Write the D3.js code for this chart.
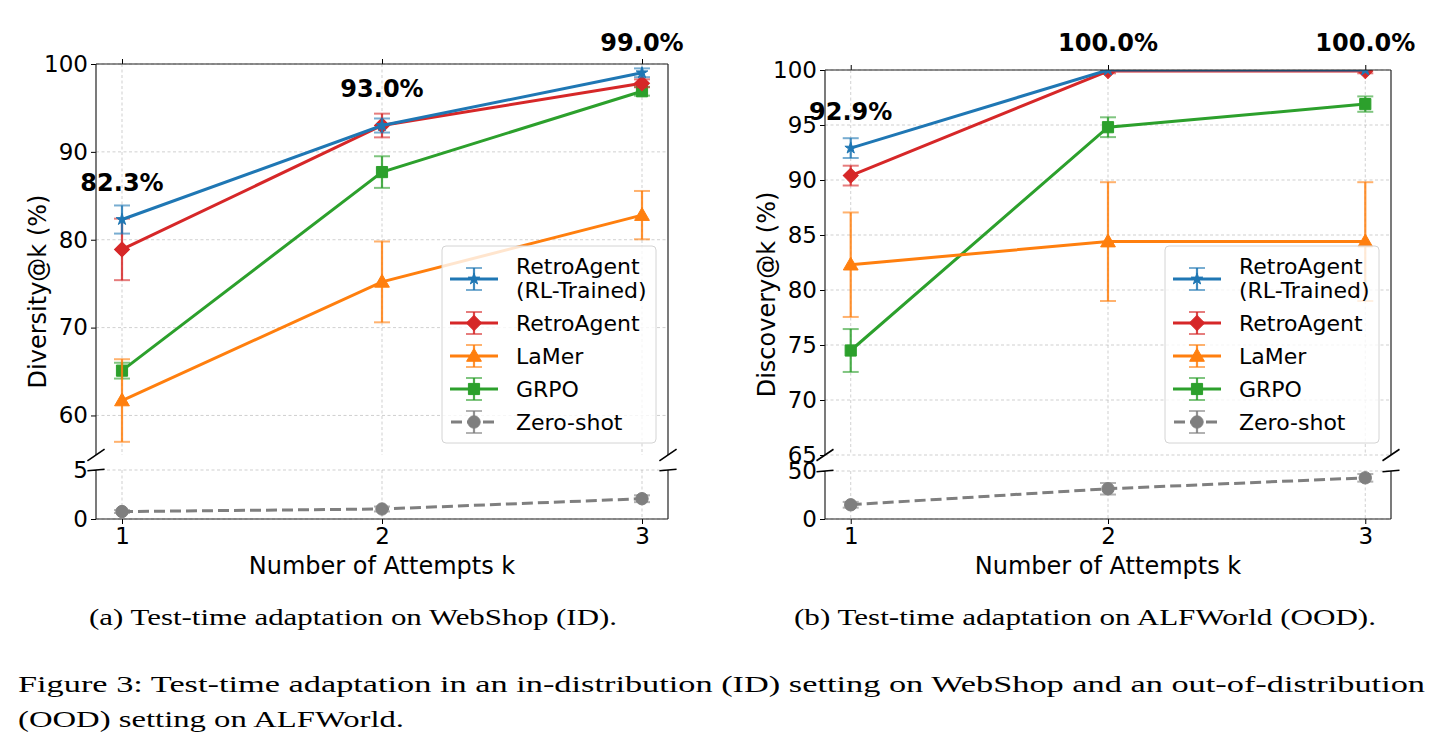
<!DOCTYPE html>
<html><head><meta charset="utf-8">
<script src="https://cdn.jsdelivr.net/npm/d3@7"></script>
<style>
body{margin:0;background:#fff}
svg{display:block}
text{fill:#000}
.cap{font-family:"Liberation Serif","Times New Roman",Times,serif;font-size:23px}
</style>
</head><body>
<svg id="c" width="1439" height="749"></svg>
<script>
// ---------------- data ----------------
const attempts = [1, 2, 3];
const xTickValues = [1, 2, 3];
const seriesNames = ["RetroAgent (RL-Trained)", "RetroAgent", "LaMer", "GRPO", "Zero-shot"];
const legendLabels = [["RetroAgent", "(RL-Trained)"], ["RetroAgent"], ["LaMer"], ["GRPO"], ["Zero-shot"]];
const seriesColors = ["#1f77b4", "#d62728", "#ff7f0e", "#2ca02c", "#7f7f7f"];
const seriesMarkers = ["star", "diamond", "triangle", "square", "circle"];

// WebShop (ID) – Diversity@k (%)
const webshopRLTrained    = [82.3, 93.0, 99.0];
const webshopRLTrainedErr = [1.6, 0.8, 0.5];
const webshopRetroAgent    = [78.9, 93.0, 97.8];
const webshopRetroAgentErr = [3.5, 1.35, 0.45];
const webshopLaMer    = [61.7, 75.2, 82.8];
const webshopLaMerErr = [4.7, 4.6, 2.75];
const webshopGRPO    = [65.1, 87.7, 96.9];
const webshopGRPOErr = [0.9, 1.8, 0.5];
const webshopZeroShot    = [0.76, 1.02, 2.07];
const webshopZeroShotErr = [0.15, 0.25, 0.35];
const webshopBestLabels = ["82.3%", "93.0%", "99.0%"];
const webshopUpperTicks = [60, 70, 80, 90, 100];
const webshopLowerTicks = [0, 5];
const webshopUpperDomain = [55.5, 100];
const webshopLowerDomain = [0, 5];

// ALFWorld (OOD) – Discovery@k (%)
const alfworldRLTrained    = [92.9, 100.0, 100.0];
const alfworldRLTrainedErr = [0.9, 0.0, 0.0];
const alfworldRetroAgent    = [90.4, 99.9, 99.9];
const alfworldRetroAgentErr = [0.9, 0.2, 0.2];
const alfworldLaMer    = [82.3, 84.4, 84.4];
const alfworldLaMerErr = [4.75, 5.4, 5.4];
const alfworldGRPO    = [74.5, 94.8, 96.9];
const alfworldGRPOErr = [1.95, 0.9, 0.7];
const alfworldZeroShot    = [14.8, 31.5, 42.9];
const alfworldZeroShotErr = [3.0, 6.0, 4.0];
const alfworldBestLabels = ["92.9%", "100.0%", "100.0%"];
const alfworldUpperTicks = [65, 70, 75, 80, 85, 90, 95, 100];
const alfworldLowerTicks = [0, 50];
const alfworldUpperDomain = [65, 100];
const alfworldLowerDomain = [0, 50];

const subCaptions = ["(a) Test-time adaptation on WebShop (ID).", "(b) Test-time adaptation on ALFWorld (OOD)."];
const figCaption = ["Figure 3: Test-time adaptation in an in-distribution (ID) setting on WebShop and an out-of-distribution",
                    "(OOD) setting on ALFWorld."];

// ---------------- layout ----------------
const SANS = "'DejaVu Sans', sans-serif";
const svg = d3.select("#c");
const panels = [
  {id: "ws", x0: 96, x1: 668, uTop: 64, uBottom: 455, lTop: 470, lBottom: 519,
   upperDomain: webshopUpperDomain, lowerDomain: webshopLowerDomain,
   upperTicks: webshopUpperTicks, lowerTicks: webshopLowerTicks,
   ylabel: "Diversity@k (%)", ylabelX: 46,
   values: [webshopRLTrained, webshopRetroAgent, webshopLaMer, webshopGRPO, webshopZeroShot],
   errs: [webshopRLTrainedErr, webshopRetroAgentErr, webshopLaMerErr, webshopGRPOErr, webshopZeroShotErr],
   best: webshopBestLabels},
  {id: "af", x0: 825, x1: 1391, uTop: 70, uBottom: 455, lTop: 471, lBottom: 519,
   upperDomain: alfworldUpperDomain, lowerDomain: alfworldLowerDomain,
   upperTicks: alfworldUpperTicks, lowerTicks: alfworldLowerTicks,
   ylabel: "Discovery@k (%)", ylabelX: 775,
   values: [alfworldRLTrained, alfworldRetroAgent, alfworldLaMer, alfworldGRPO, alfworldZeroShot],
   errs: [alfworldRLTrainedErr, alfworldRetroAgentErr, alfworldLaMerErr, alfworldGRPOErr, alfworldZeroShotErr],
   best: alfworldBestLabels}
];

function markerPath(kind) {
  switch (kind) {
    case "star": return d3.symbol(d3.symbolStar, 42)();
    case "diamond": return d3.symbol(d3.symbolSquare, 112)();
    case "triangle": return d3.symbol(d3.symbolTriangle, 95)();
    case "square": return d3.symbol(d3.symbolSquare, 125)();
    default: return d3.symbol(d3.symbolCircle, 120)();
  }
}
function markerTransform(kind, x, y) {
  if (kind === "diamond") return `translate(${x},${y}) rotate(45)`;
  if (kind === "triangle") return `translate(${x},${y + 1})`;
  return `translate(${x},${y})`;
}

const gridStyle = sel => sel.attr("stroke", "#b0b0b0").attr("stroke-width", 0.8)
  .attr("stroke-dasharray", "3,2.5").attr("opacity", 0.75).attr("fill", "none");

panels.forEach(p => {
  const g = svg.append("g");
  const xs = d3.scaleLinear().domain([0.9, 3.1]).range([p.x0, p.x1]);
  const yU = d3.scaleLinear().domain(p.upperDomain).range([p.uBottom, p.uTop]);
  const yL = d3.scaleLinear().domain(p.lowerDomain).range([p.lBottom, p.lTop]);

  // clip paths
  const defs = g.append("defs");
  defs.append("clipPath").attr("id", p.id + "U").append("rect")
    .attr("x", p.x0).attr("y", p.uTop).attr("width", p.x1 - p.x0).attr("height", p.uBottom - p.uTop);
  defs.append("clipPath").attr("id", p.id + "L").append("rect")
    .attr("x", p.x0).attr("y", p.lTop).attr("width", p.x1 - p.x0).attr("height", p.lBottom - p.lTop);

  // grids
  [[yU, p.upperTicks, p.uTop, p.uBottom], [yL, p.lowerTicks, p.lTop, p.lBottom]].forEach(([ys, ticks, t, b]) => {
    const gg = g.append("g");
    xTickValues.forEach(v => gg.append("line").attr("x1", xs(v)).attr("x2", xs(v)).attr("y1", t).attr("y2", b).call(gridStyle));
    ticks.forEach(v => gg.append("line").attr("x1", p.x0).attr("x2", p.x1).attr("y1", ys(v)).attr("y2", ys(v)).call(gridStyle));
  });

  // series (draw last-listed first so RL-Trained ends on top)
  const order = [4, 3, 2, 1, 0];
  [[yU, p.id + "U"], [yL, p.id + "L"]].forEach(([ys, clip]) => {
    const sg = g.append("g").attr("clip-path", `url(#${clip})`);
    order.forEach(si => {
      const vals = p.values[si], errs = p.errs[si], col = seriesColors[si];
      const pts = attempts.map((k, i) => ({k, v: vals[i], e: errs[i]}));
      const line = d3.line().x(d => xs(d.k)).y(d => ys(d.v));
      sg.append("path").datum(pts).attr("d", line).attr("fill", "none")
        .attr("stroke", col).attr("stroke-width", 3)
        .attr("stroke-dasharray", si === 4 ? "11,5" : null);
      pts.forEach(d => {
        const x = xs(d.k);
        if (d.e > 0) {
          sg.append("line").attr("x1", x).attr("x2", x).attr("y1", ys(d.v - d.e)).attr("y2", ys(d.v + d.e))
            .attr("stroke", col).attr("stroke-width", 2.2).attr("opacity", 0.85);
          [d.v - d.e, d.v + d.e].forEach(c => sg.append("line").attr("x1", x - 8).attr("x2", x + 8)
            .attr("y1", ys(c)).attr("y2", ys(c)).attr("stroke", col).attr("stroke-width", 2).attr("opacity", 0.6));
        }
        sg.append("path").attr("d", markerPath(seriesMarkers[si]))
          .attr("transform", markerTransform(seriesMarkers[si], x, ys(d.v)))
          .attr("fill", col).attr("stroke", col).attr("stroke-width", 1);
      });
    });
  });

  // axes (ticks + labels) via d3 axes
  const styleAxis = sel => {
    sel.select(".domain").remove();
    sel.selectAll(".tick line").attr("stroke", "#000").attr("stroke-width", 1);
    sel.selectAll(".tick text").style("font-size", "23px").style("font-family", SANS).attr("fill", "#000");
  };
  g.append("g").attr("transform", `translate(${p.x0},0)`)
    .call(d3.axisLeft(yU).tickValues(p.upperTicks).tickSize(5).tickPadding(3).tickFormat(d3.format("d"))).call(styleAxis);
  g.append("g").attr("transform", `translate(${p.x0},0)`)
    .call(d3.axisLeft(yL).tickValues(p.lowerTicks).tickSize(5).tickPadding(3).tickFormat(d3.format("d"))).call(styleAxis);
  g.append("g").attr("transform", `translate(0,${p.uTop})`)
    .call(d3.axisTop(xs).tickValues(xTickValues).tickSize(5).tickFormat("")).call(styleAxis);
  g.append("g").attr("transform", `translate(0,${p.lBottom})`)
    .call(d3.axisBottom(xs).tickValues(xTickValues).tickSize(5).tickPadding(4).tickFormat(d3.format("d"))).call(styleAxis);

  // spines
  const sp = (x1, y1, x2, y2) => g.append("line").attr("x1", x1).attr("y1", y1).attr("x2", x2).attr("y2", y2)
    .attr("stroke", "#222").attr("stroke-width", 1.2);
  sp(p.x0, p.uTop, p.x1, p.uTop); sp(p.x0, p.uTop, p.x0, p.uBottom); sp(p.x1, p.uTop, p.x1, p.uBottom);
  sp(p.x0, p.lBottom, p.x1, p.lBottom); sp(p.x0, p.lTop, p.x0, p.lBottom); sp(p.x1, p.lTop, p.x1, p.lBottom);

  // break marks
  const d = 0.015, w = p.x1 - p.x0, hU = p.uBottom - p.uTop, hL = p.lBottom - p.lTop;
  const bm = (cx, cy, dx, dy) => g.append("line").attr("x1", cx - dx).attr("y1", cy + dy).attr("x2", cx + dx).attr("y2", cy - dy)
    .attr("stroke", "#000").attr("stroke-width", 1.6);
  [p.x0, p.x1].forEach(cx => { bm(cx, p.uBottom, d * w, d * hU); bm(cx, p.lTop, d * w, d * hL); });

  // axis labels
  g.append("text").attr("x", (p.x0 + p.x1) / 2).attr("y", 574).attr("text-anchor", "middle")
    .style("font-family", SANS).style("font-size", "24px").text("Number of Attempts k");
  g.append("text").attr("transform", `translate(${p.ylabelX},${(p.uTop + p.lBottom) / 2}) rotate(-90)`)
    .attr("text-anchor", "middle").style("font-family", SANS).style("font-size", "24px").text(p.ylabel);

  // best value annotations (RL-Trained series)
  attempts.forEach((k, i) => {
    const yy = Math.max(yU(p.values[0][i]) - 37, 42);
    g.append("text").attr("x", xs(k)).attr("y", yy).attr("dy", "0.36em").attr("text-anchor", "middle")
      .style("font-family", SANS).style("font-size", "24px").style("font-weight", "bold").text(p.best[i]);
  });

  // legend (lower right of upper axes)
  const lw = 214, lh = 197;
  const lx = p.x1 - 12 - lw, ly = p.uBottom - 12 - lh;
  const lg = g.append("g");
  lg.append("rect").attr("x", lx).attr("y", ly).attr("width", lw).attr("height", lh).attr("rx", 4)
    .attr("fill", "#fff").attr("fill-opacity", 0.8).attr("stroke", "#d4d4d4").attr("stroke-width", 1);
  const handleY = [33, 77, 110, 143, 176];
  seriesNames.forEach((name, si) => {
    const cy = ly + handleY[si], col = seriesColors[si];
    const hx0 = lx + 8, hx1 = lx + 56, hxm = lx + 32;
    lg.append("line").attr("x1", hx0).attr("x2", hx1).attr("y1", cy).attr("y2", cy)
      .attr("stroke", col).attr("stroke-width", 3).attr("stroke-dasharray", si === 4 ? "11,5" : null)
      .attr("stroke-dashoffset", si === 4 ? -1 : null);
    lg.append("line").attr("x1", hxm).attr("x2", hxm).attr("y1", cy - 11).attr("y2", cy + 11)
      .attr("stroke", col).attr("stroke-width", 2.2).attr("opacity", 0.85);
    [cy - 11, cy + 11].forEach(c => lg.append("line").attr("x1", hxm - 8).attr("x2", hxm + 8).attr("y1", c).attr("y2", c)
      .attr("stroke", col).attr("stroke-width", 2).attr("opacity", 0.6));
    lg.append("path").attr("d", markerPath(seriesMarkers[si]))
      .attr("transform", markerTransform(seriesMarkers[si], hxm, cy)).attr("fill", col).attr("stroke", col);
    const lines = legendLabels[si];
    lines.forEach((t, li) => {
      const ty = lines.length === 2 ? cy - 12.5 + li * 24 : cy;
      lg.append("text").attr("x", lx + 74).attr("y", ty).attr("dy", "0.36em")
        .style("font-family", SANS).style("font-size", "22px").text(t);
    });
  });
});

// captions
[[subCaptions[0], 353, 625, 528], [subCaptions[1], 1085, 625, 582]].forEach(([t, cx, by, wdt]) => {
  svg.append("text").attr("class", "cap").attr("x", cx).attr("y", by).attr("text-anchor", "middle")
    .attr("textLength", wdt).attr("lengthAdjust", "spacingAndGlyphs").text(t);
});
svg.append("text").attr("class", "cap").attr("x", 18).attr("y", 692)
  .attr("textLength", 1407).attr("lengthAdjust", "spacingAndGlyphs").text(figCaption[0]);
svg.append("text").attr("class", "cap").attr("x", 18).attr("y", 727)
  .attr("textLength", 386).attr("lengthAdjust", "spacingAndGlyphs").text(figCaption[1]);
</script>
</body></html>
